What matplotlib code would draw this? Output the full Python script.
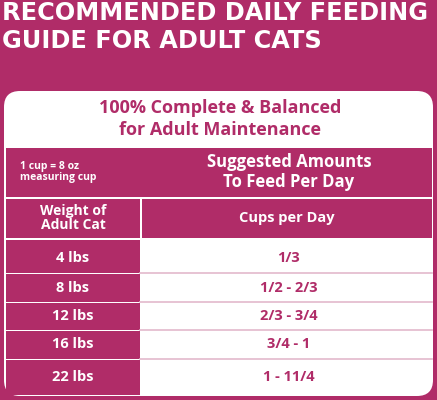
import matplotlib
matplotlib.use("Agg")
import matplotlib.pyplot as plt
from matplotlib.patches import FancyBboxPatch, Rectangle

title_lines = ["RECOMMENDED DAILY FEEDING", "GUIDE FOR ADULT CATS"]
subtitle_lines = ["100% Complete & Balanced", "for Adult Maintenance"]
note = "1 cup = 8 oz\nmeasuring cup"
header = "Suggested Amounts\nTo Feed Per Day"
col_left = "Weight of\nAdult Cat"
col_right = "Cups per Day"
weights = ["4 lbs", "8 lbs", "12 lbs", "16 lbs", "22 lbs"]
cups = ["1/3", "1/2 - 2/3", "2/3 - 3/4", "3/4 - 1", "1 - 11/4"]

MAG = "#B02C68"
LINE = "#E3B9CC"
plt.rcParams['font.family'] = ['Open Sans', 'DejaVu Sans']

fig = plt.figure(figsize=(4.37, 4.0), dpi=100)
fig.patch.set_facecolor(MAG)
ax = fig.add_axes([0, 0, 1, 1])
ax.set_xlim(0, 437); ax.set_ylim(400, 0); ax.axis('off')

ax.text(2, 13, title_lines[0], color='white', fontsize=17.3, fontweight='heavy', va='center', ha='left', family=['DejaVu Sans'])
ax.text(2, 41, title_lines[1], color='white', fontsize=17.3, fontweight='heavy', va='center', ha='left', family=['DejaVu Sans'])

ax.add_patch(FancyBboxPatch((4, 91), 429, 305, boxstyle="round,pad=0,rounding_size=16", fc='white', ec='none'))
ax.text(220, 108, subtitle_lines[0], color=MAG, fontsize=13, fontweight='bold', ha='center', va='center')
ax.text(220, 130, subtitle_lines[1], color=MAG, fontsize=13, fontweight='bold', ha='center', va='center')

x0, xm, x1 = 6, 140, 432
ax.add_patch(Rectangle((x0, 148), x1 - x0, 49, fc=MAG, ec='none'))
ax.text(20, 172, note, color='white', fontsize=7.5, fontweight='bold', ha='left', va='center', linespacing=1.0)
ax.text(289, 172, header, color='white', fontsize=12, fontweight='bold', ha='center', va='center', linespacing=1.15)
ax.add_patch(Rectangle((x0, 199), xm - x0, 39, fc=MAG, ec='none'))
ax.add_patch(Rectangle((xm + 2, 199), x1 - xm - 2, 39, fc=MAG, ec='none'))
ax.text((x0 + xm) / 2, 218, col_left, color='white', fontsize=10, fontweight='bold', ha='center', va='center', linespacing=0.95)
ax.text(287, 218, col_right, color='white', fontsize=10.5, fontweight='bold', ha='center', va='center')

bounds = [239, 273, 302, 330, 359, 395]
for i, (w, c) in enumerate(zip(weights, cups)):
    top, bot = bounds[i], bounds[i + 1]
    ax.add_patch(Rectangle((x0, top + 1), xm - x0, bot - top - 1, fc=MAG, ec='none'))
    yc = (top + bot) / 2 + (2 if i == 0 else 0)
    ax.text((x0 + xm) / 2, yc, w, color='white', fontsize=10.5, fontweight='bold', ha='center', va='center')
    ax.text(289, yc, c, color=MAG, fontsize=10.5, fontweight='bold', ha='center', va='center')
    if i > 0:
        ax.plot([xm, x1], [top, top], color=LINE, lw=1.2)

fig.savefig("out.png", dpi=100, facecolor=MAG)
